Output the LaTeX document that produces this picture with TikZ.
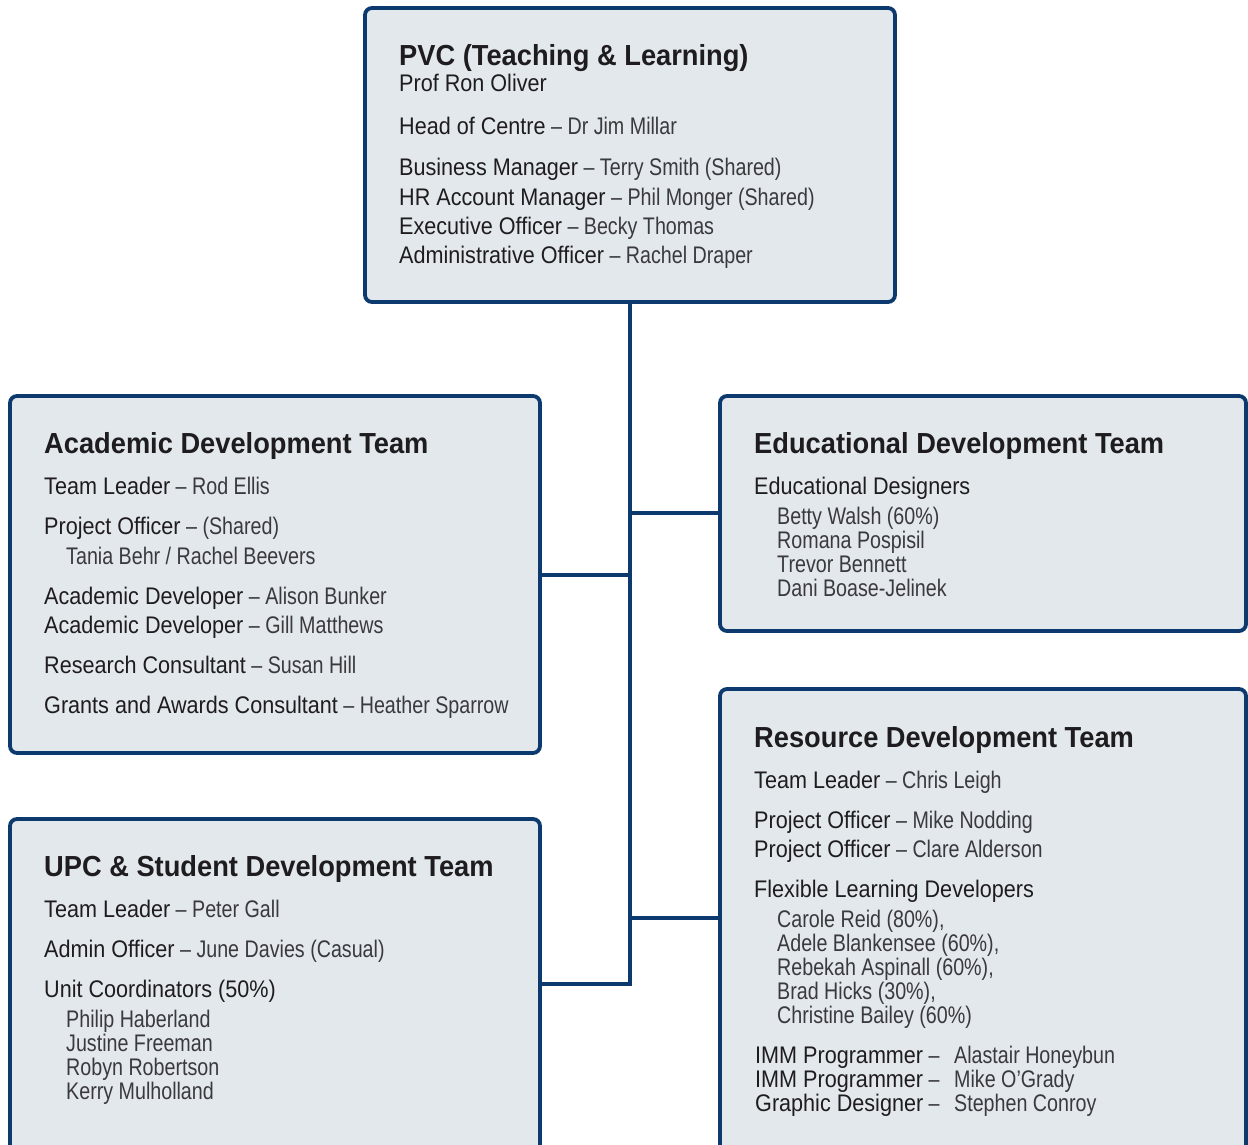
\documentclass[tikz,border=0pt]{standalone}
\usepackage{fontspec}
\usepackage{xcolor}
\setmainfont[Ligatures=TeX]{Liberation Sans}
\newfontfamily\rolefont[Ligatures=TeX,FakeStretch=0.9]{Liberation Sans}
\newfontfamily\namefont[Ligatures=TeX,FakeStretch=0.82]{Liberation Sans}
\newfontfamily\headfont[Ligatures=TeX,FakeStretch=0.94]{Liberation Sans}
\usetikzlibrary{calc,positioning}

\definecolor{boxline}{RGB}{12,58,110}
\definecolor{boxfill}{RGB}{227,232,237}
\definecolor{rolecol}{RGB}{30,28,30}
\definecolor{namecol}{RGB}{58,58,62}

\newcommand{\job}[1]{{\rolefont\color{rolecol}#1}}
\newcommand{\who}[1]{{\namefont\color{namecol}#1}}

\tikzset{
	teambox/.style={draw=boxline, fill=boxfill, line width=3.8pt, rounded corners=7pt, anchor=north west, inner sep=0pt, outer sep=0pt},
	txt/.style={anchor=base west, inner sep=0pt, font=\namefont\fontsize{24}{28}\selectfont, text=namecol},
	head/.style={anchor=base west, inner sep=0pt, font=\headfont\bfseries\fontsize{29}{34}\selectfont, text=rolecol},
	link/.style={draw=boxline, line width=3.8pt},
}

\begin{document}
\begin{tikzpicture}[x=1pt,y=-1pt]
		\useasboundingbox (0,0) rectangle (1248,1144);
		
		% boxes
		\node[teambox, minimum width=530pt, minimum height=294pt] (pvc) at (365,8) {};
		\node[teambox, minimum width=530pt, minimum height=357pt] (acad) at (10,396) {};
		\node[teambox, minimum width=526pt, minimum height=235pt] (edu) at (720,396) {};
		\node[teambox, minimum width=526pt, minimum height=480pt] (res) at (720,689) {};
		\node[teambox, minimum width=530pt, minimum height=340pt] (upc) at (10,819) {};
		
		% connectors
		\coordinate (hub-e) at (630,513);
		\coordinate (hub-a) at (630,575);
		\coordinate (hub-r) at (630,918);
		\coordinate (hub-u) at (630,984);
		\draw[link] (pvc.south) -- (hub-u) -- (hub-u -| upc.east);
		\draw[link] (hub-a) -- (hub-a -| acad.east);
		\draw[link] (hub-e) -- (hub-e -| edu.west);
		\draw[link] (hub-r) -- (hub-r -| res.west);
		
		% PVC
		\node[head] (pvc-t) at (399,65) {PVC (Teaching \& Learning)};
		\node[txt] (pvc-1) at (399,91) {\job{Prof Ron Oliver}};
		\node[txt] (pvc-2) at (399,134) {\job{Head of Centre} \who{-- Dr Jim Millar}};
		\node[txt] (pvc-3) at (399,175) {\job{Business Manager} \who{-- Terry Smith (Shared)}};
		\node[txt] (pvc-4) at (399,205) {\job{HR Account Manager} \who{-- Phil Monger (Shared)}};
		\node[txt] (pvc-5) at (399,234) {\job{Executive Officer} \who{-- Becky Thomas}};
		\node[txt] (pvc-6) at (399,263) {\job{Administrative Officer} \who{-- Rachel Draper}};
		
		% Academic Development
		\node[head] (acad-t) at (44,453) {Academic Development Team};
		\node[txt] (acad-1) at (44,494) {\job{Team Leader} \who{-- Rod Ellis}};
		\node[txt] (acad-2) at (44,534) {\job{Project Officer} \who{-- (Shared)}};
		\node[txt] (acad-3) at (66,564) {\who{Tania Behr / Rachel Beevers}};
		\node[txt] (acad-4) at (44,604) {\job{Academic Developer} \who{-- Alison Bunker}};
		\node[txt] (acad-5) at (44,633) {\job{Academic Developer} \who{-- Gill Matthews}};
		\node[txt] (acad-6) at (44,673) {\job{Research Consultant} \who{-- Susan Hill}};
		\node[txt] (acad-7) at (44,713) {\job{Grants and Awards Consultant} \who{-- Heather Sparrow}};
		
		% Educational Development
		\node[head] (edu-t) at (754,453) {Educational Development Team};
		\node[txt] (edu-1) at (754,494) {\job{Educational Designers}};
		\node[txt] (edu-2) at (777,524) {\who{Betty Walsh (60\%)}};
		\node[txt] (edu-3) at (777,548) {\who{Romana Pospisil}};
		\node[txt] (edu-4) at (777,572) {\who{Trevor Bennett}};
		\node[txt] (edu-5) at (777,596) {\who{Dani Boase-Jelinek}};
		
		% Resource Development
		\node[head] (res-t) at (754,747) {Resource Development Team};
		\node[txt] (res-1) at (754,788) {\job{Team Leader} \who{-- Chris Leigh}};
		\node[txt] (res-2) at (754,828) {\job{Project Officer} \who{-- Mike Nodding}};
		\node[txt] (res-3) at (754,857) {\job{Project Officer} \who{-- Clare Alderson}};
		\node[txt] (res-4) at (754,897) {\job{Flexible Learning Developers}};
		\node[txt] (res-5) at (777,927) {\who{Carole Reid (80\%),}};
		\node[txt] (res-6) at (777,951) {\who{Adele Blankensee (60\%),}};
		\node[txt] (res-7) at (777,975) {\who{Rebekah Aspinall (60\%),}};
		\node[txt] (res-8) at (777,999) {\who{Brad Hicks (30\%),}};
		\node[txt] (res-9) at (777,1023) {\who{Christine Bailey (60\%)}};
		\node[txt] (res-10) at (755,1063) {\job{IMM Programmer} \who{--}};
		\node[txt] (res-11) at (755,1087) {\job{IMM Programmer} \who{--}};
		\node[txt] (res-12) at (755,1111) {\job{Graphic Designer} \who{--}};
		\node[txt] (res-10n) at (954,1063) {\who{Alastair Honeybun}};
		\node[txt] (res-11n) at (954,1087) {\who{Mike O'Grady}};
		\node[txt] (res-12n) at (954,1111) {\who{Stephen Conroy}};
		
		% UPC & Student Development
		\node[head] (upc-t) at (44,876) {UPC \& Student Development Team};
		\node[txt] (upc-1) at (44,917) {\job{Team Leader} \who{-- Peter Gall}};
		\node[txt] (upc-2) at (44,957) {\job{Admin Officer} \who{-- June Davies (Casual)}};
		\node[txt] (upc-3) at (44,997) {\job{Unit Coordinators (50\%)}};
		\node[txt] (upc-4) at (66,1027) {\who{Philip Haberland}};
		\node[txt] (upc-5) at (66,1051) {\who{Justine Freeman}};
		\node[txt] (upc-6) at (66,1075) {\who{Robyn Robertson}};
		\node[txt] (upc-7) at (66,1099) {\who{Kerry Mulholland}};
\end{tikzpicture}
\end{document}
